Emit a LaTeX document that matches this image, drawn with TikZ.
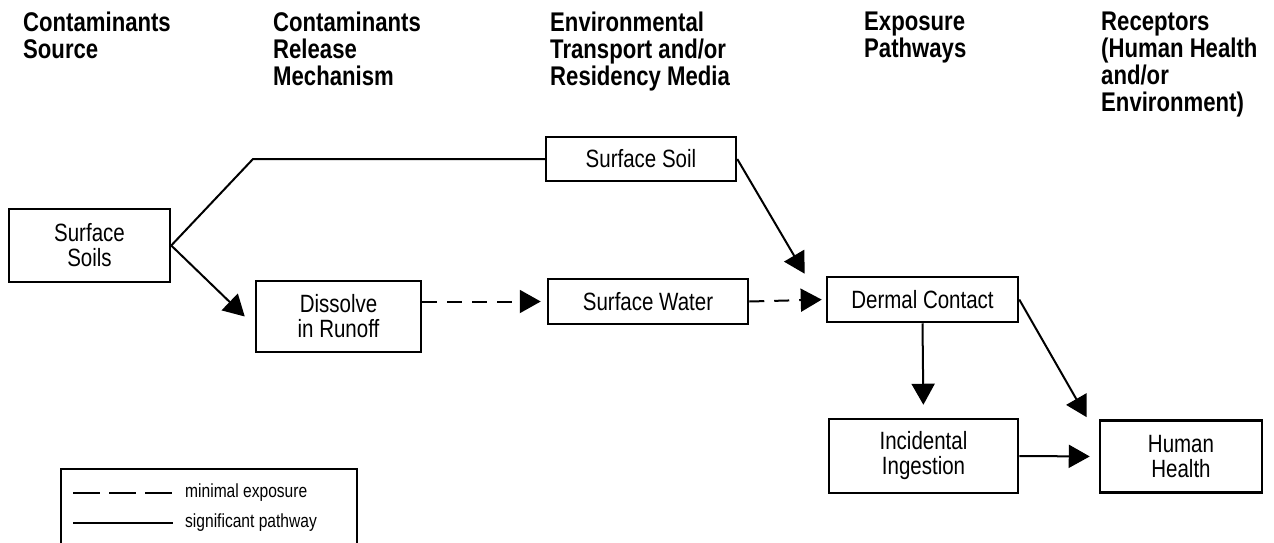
\documentclass[tikz,border=0pt]{standalone}
\usepackage{fontspec}
\setmainfont{Liberation Sans}[FakeStretch=0.82]
\usetikzlibrary{arrows.meta}

\newcommand{\headfont}{\fontsize{27}{27}\selectfont\bfseries}
\newcommand{\boxfont}{\fontsize{25}{25}\selectfont}
\newcommand{\keyfont}{\fontsize{19}{21}\selectfont}

\tikzset{
	stagebox/.style={draw, line width=2.5pt, align=center, inner sep=0pt, font=\boxfont},
	head/.style={anchor=north west, align=left, inner sep=0pt, font=\headfont},
	link/.style={line width=2pt, -{Triangle[length=21pt,width=23pt]}},
	weak/.style={link, dash pattern=on 15pt off 10pt},
}

\begin{document}
\begin{tikzpicture}[x=1pt, y=-1pt]
	\useasboundingbox (0,0) rectangle (1274,542);
	
	% column headings
	\node[head] (h1) at (23,12) {Contaminants\\Source};
	\node[head] (h2) at (273,12) {Contaminants\\Release\\Mechanism};
	\node[head] (h3) at (550,12) {Environmental\\Transport and/or\\Residency Media};
	\node[head] (h4) at (864,12) {Exposure\\Pathways};
	\node[head] (h5) at (1101,12) {Receptors\\(Human Health\\and/or\\Environment)};
	
	% boxes
	\node[stagebox, minimum width=161, minimum height=73] (src) at (89.5,245.5) {Surface\\Soils};
	\node[stagebox, minimum width=190, minimum height=44] (soil) at (641,159) {Surface Soil};
	\node[stagebox, minimum width=165, minimum height=71] (dissolve) at (338.5,316.5) {Dissolve\\in Runoff};
	\node[stagebox, minimum width=200, minimum height=45] (water) at (648,301.5) {Surface Water};
	\node[stagebox, minimum width=191, minimum height=45] (dermal) at (922.5,299.5) {Dermal Contact};
	\node[stagebox, minimum width=189, minimum height=74] (ingest) at (923.5,456) {Incidental\\Ingestion};
	\node[stagebox, minimum width=162, minimum height=72] (human) at (1181,456.5) {Human\\Health};
	
	\coordinate (bend) at (253,159);
	
	% pathways
	\draw[line width=2pt] (src.east) -- (bend) -- (soil.west);
	\draw[link] (src.east) -- ([xshift=-10pt]dissolve.west);
	\draw[weak, shorten >=6pt] (dissolve.east |- water.west) -- (water.west);
	\draw[weak, shorten >=4pt] (water.east) -- (dermal.west);
	\draw[link] (soil.east) -- ([shift={(-21,-2)}]dermal.north west);
	\draw[link, shorten >=13pt] (dermal.south) -- (ingest.north);
	\draw[link] (dermal.east) -- ([shift={(-12,-2)}]human.north west);
	\draw[link, shorten >=9pt] (ingest.east) -- (human.west);
	
	% key
	\draw[line width=1.2pt] (61,545) -- (61,469) -- (357,469) -- (357,545);
	\draw[line width=1.6pt, dash pattern=on 27pt off 9pt] (73,493) -- (173,493);
	\draw[line width=1.6pt] (73,523) -- (173,523);
	\node[anchor=west, inner sep=0pt, font=\keyfont] (k1) at (185,493) {minimal exposure};
	\node[anchor=west, inner sep=0pt, font=\keyfont] (k2) at (185,523) {significant pathway};
\end{tikzpicture}
\end{document}
